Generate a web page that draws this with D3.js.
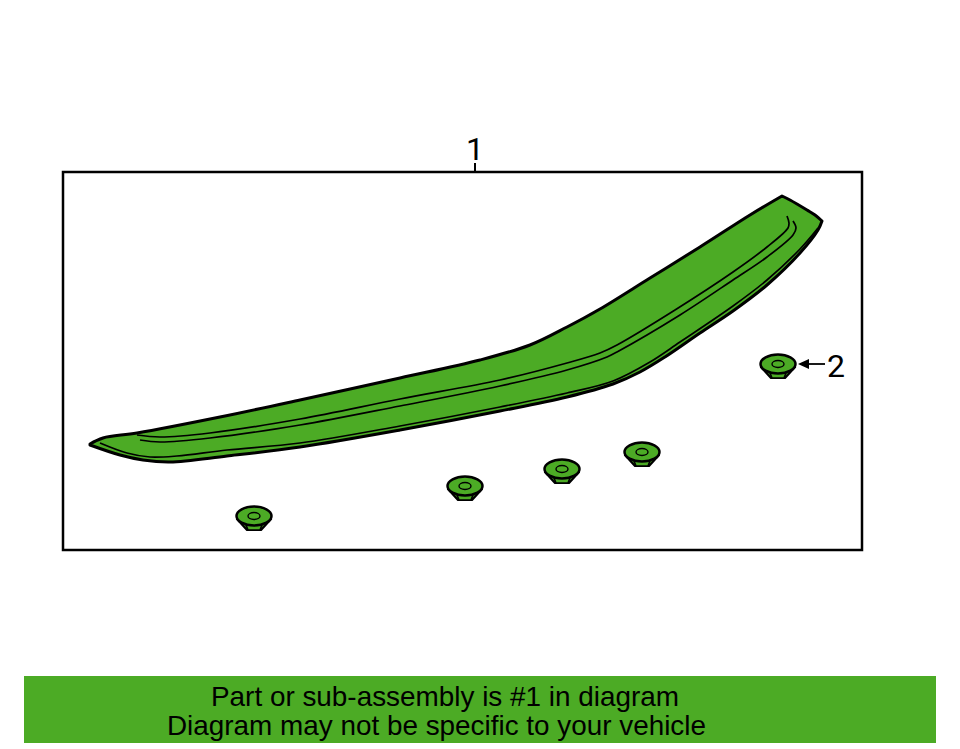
<!DOCTYPE html>
<html>
<head>
<meta charset="utf-8">
<style>
  html, body { margin: 0; padding: 0; background: #fff; }
  svg { display: block; }
  text { font-family: "Liberation Sans", Arial, sans-serif; fill: #000; }
</style>
</head>
<body>
<div id="wrapper"></div>
<script src="https://cdn.jsdelivr.net/npm/d3@7"></script>
<script>
'use strict';

//#region DATASET
// everything, in picture units
const upperEdge = [[90,444],[103,438],[137,433],[220,417],[300,400],[400,378],[480,360],[530,345],[567,327],[600,309],[650,278],[700,247],[750,215],[782,196]];
const tipEdge = [[782,196],[790,200],[807,210],[815,215],[822,221]];
const lowerEdge = [[822,221],[818,230],[800,253],[767,285],[733,311],[700,333],[665,357],[640,372],[613,384],[567,397],[500,411],[400,430],[300,447],[227,456],[170,462],[143,460],[120,455],[90,445]];
const grooveTop = [[137,435],[160,437],[210,433],[300,419],[400,399],[500,380],[567,363],[600,353],[617,345],[675,310],[733,272],[767,247],[788,228],[789,223],[787,216]];
const grooveBottom = [[140,440],[160,442],[210,438],[300,425],[400,406],[500,386],[567,370],[607,357],[617,352],[680,315],[733,280],[767,257],[793,235],[796,228],[793,221]];
const rimLine = [[100,443],[127,453],[150,457],[177,456],[227,450],[300,443],[400,426],[500,407],[567,393],[613,381],[650,362],[680,342],[733,306],[767,280],[800,249],[818,228]];

const clipCentres = [[254,516],[465,486],[562,469],[642,452],[778,364]];
const clipSkirt = [[-17,3],[-7,14],[7,14],[17,3]];
const clipHex = [[-8,9],[-6,14],[6,14],[8,9]];

const frame = { x0: 63, x1: 862, y0: 172, y1: 550 };
const partLabels = [
  { text: '1', x: 475, y: 160 },
  { text: '2', x: 836, y: 377 }
];
const noteLines = [
  { text: 'Part or sub-assembly is #1 in diagram', x: 211, y: 706, length: 468 },
  { text: 'Diagram may not be specific to your vehicle', x: 167, y: 735, length: 539 }
];
//#endregion DATASET

//#region CHART DIMENSIONS
const dimensions = { width: 960, height: 749 };
const green = '#4cab25';
//#endregion CHART DIMENSIONS

//#region DRAW CANVAS
const wrapper = d3.select('#wrapper').append('svg')
  .attr('width', dimensions.width)
  .attr('height', dimensions.height);
//#endregion DRAW CANVAS

//#region CREATE SCALES
const xScale = d3.scaleLinear().domain([0, 960]).range([0, dimensions.width]);
const yScale = d3.scaleLinear().domain([0, 749]).range([0, dimensions.height]);

const curved = d3.line()
  .x(d => xScale(d[0]))
  .y(d => yScale(d[1]))
  .curve(d3.curveCatmullRom.alpha(0.5));
//#endregion CREATE SCALES

//#region DRAW FRAME
wrapper.append('rect')
  .attr('x', xScale(frame.x0))
  .attr('y', yScale(frame.y0))
  .attr('width', xScale(frame.x1) - xScale(frame.x0))
  .attr('height', yScale(frame.y1) - yScale(frame.y0))
  .attr('fill', '#fff')
  .attr('stroke', '#000')
  .attr('stroke-width', 2.5);

wrapper.append('line')
  .attr('x1', xScale(475))
  .attr('x2', xScale(475))
  .attr('y1', yScale(163))
  .attr('y2', yScale(frame.y0))
  .attr('stroke', '#000')
  .attr('stroke-width', 2);
//#endregion DRAW FRAME

//#region DRAW SPOILER
const outline = [upperEdge, tipEdge, lowerEdge]
  .map((edge, i) => i ? 'L' + curved(edge).slice(1) : curved(edge))
  .join('') + 'Z';

wrapper.append('path')
  .attr('d', outline)
  .attr('fill', green)
  .attr('stroke', '#000')
  .attr('stroke-width', 3)
  .attr('stroke-linejoin', 'round');

wrapper.selectAll('.groove')
  .data([grooveTop, grooveBottom, rimLine])
  .enter()
  .append('path')
  .attr('class', 'groove')
  .attr('d', curved)
  .attr('fill', 'none')
  .attr('stroke', '#000')
  .attr('stroke-width', 1.7);
//#endregion DRAW SPOILER

//#region DRAW CLIPS
const clipLine = d3.line()
  .x(d => xScale(d[0]))
  .y(d => yScale(d[1]));

const clips = wrapper.selectAll('.clip')
  .data(clipCentres)
  .enter()
  .append('g')
  .attr('class', 'clip')
  .attr('transform', d => `translate(${xScale(d[0])}, ${yScale(d[1])})`);

clips.append('path')
  .attr('d', clipLine(clipSkirt) + 'Z')
  .attr('fill', green)
  .attr('stroke', '#000')
  .attr('stroke-width', 2.2)
  .attr('stroke-linejoin', 'round');

clips.append('path')
  .attr('d', clipLine(clipHex) + 'Z')
  .attr('fill', green)
  .attr('stroke', '#000')
  .attr('stroke-width', 1.6)
  .attr('stroke-linejoin', 'round');

clips.append('ellipse')
  .attr('rx', 17.5)
  .attr('ry', 9.5)
  .attr('fill', green)
  .attr('stroke', '#000')
  .attr('stroke-width', 2.5);

clips.append('ellipse')
  .attr('rx', 6)
  .attr('ry', 3.5)
  .attr('fill', green)
  .attr('stroke', '#000')
  .attr('stroke-width', 1.4);
//#endregion DRAW CLIPS

//#region DRAW PERIPHERALS
wrapper.selectAll('.part-label')
  .data(partLabels)
  .enter()
  .append('text')
  .attr('class', 'part-label')
  .attr('x', d => xScale(d.x))
  .attr('y', d => yScale(d.y))
  .attr('text-anchor', 'middle')
  .style('font-family', 'Roboto')
  .style('font-size', '32px')
  .text(d => d.text);

wrapper.append('line')
  .attr('x1', xScale(825))
  .attr('x2', xScale(804))
  .attr('y1', yScale(364))
  .attr('y2', yScale(364))
  .attr('stroke', '#000')
  .attr('stroke-width', 1.8);

wrapper.append('path')
  .attr('d', clipLine([[798,364],[809,359],[809,369]]) + 'Z')
  .attr('fill', '#000');

wrapper.append('rect')
  .attr('x', xScale(24))
  .attr('y', yScale(676))
  .attr('width', xScale(936) - xScale(24))
  .attr('height', yScale(743) - yScale(676))
  .attr('fill', green);

wrapper.selectAll('.note')
  .data(noteLines)
  .enter()
  .append('text')
  .attr('class', 'note')
  .attr('x', d => xScale(d.x))
  .attr('y', d => yScale(d.y))
  .attr('textLength', d => d.length)
  .attr('lengthAdjust', 'spacingAndGlyphs')
  .style('font-size', '28px')
  .text(d => d.text);
//#endregion DRAW PERIPHERALS
</script>
</body>
</html>
